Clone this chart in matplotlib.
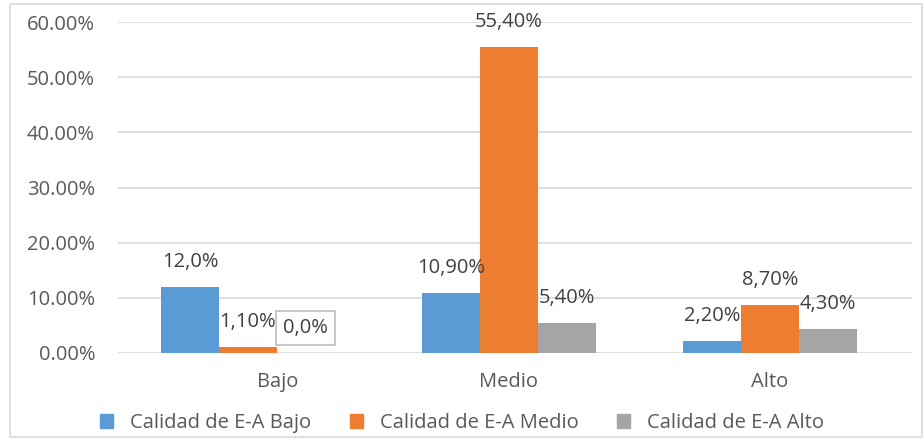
import matplotlib
matplotlib.use("Agg")
import matplotlib.pyplot as plt
import matplotlib.transforms as mtransforms
import numpy as np
from matplotlib.patches import Patch, Rectangle
from matplotlib.ticker import PercentFormatter

plt.rcParams['font.family'] = ['Open Sans', 'DejaVu Sans']

# data
categories = ["Bajo", "Medio", "Alto"]
series_names = ["Calidad de E-A Bajo", "Calidad de E-A Medio", "Calidad de E-A Alto"]
bajo_vals = [12.0, 10.9, 2.2]
medio_vals = [1.1, 55.4, 8.7]
alto_vals = [0.0, 5.4, 4.3]
bajo_labels = ["12,0%", "10,90%", "2,20%"]
medio_labels = ["1,10%", "55,40%", "8,70%"]
alto_labels = ["0,0%", "5,40%", "4,30%"]

colors = ["#5B9BD5", "#ED7D31", "#A5A5A5"]
text_col = "#595959"
fs = 14.5

fig = plt.figure(figsize=(9.24, 4.41), dpi=100)
ax = fig.add_axes([118 / 924, 1 - 353 / 441, (912 - 118) / 924, (353 - 22) / 441])

x = np.arange(len(categories))
w = 0.222
all_vals = [bajo_vals, medio_vals, alto_vals]
all_labels = [bajo_labels, medio_labels, alto_labels]

for i, (vals, labs) in enumerate(zip(all_vals, all_labels)):
    pos = x + (i - 1) * w
    ax.bar(pos, np.array(vals) / 100, width=w, color=colors[i], zorder=3)
    for px, v, lab in zip(pos, vals, labs):
        kw = {}
        if v == 0:
            kw["bbox"] = dict(boxstyle="square,pad=0.35", fc="white", ec="#BFBFBF", lw=1.2)
        ax.annotate(lab, (px, v / 100), xytext=(0, 25), textcoords="offset pixels",
                    ha="center", va="center", fontsize=fs, color="#404040", zorder=5, **kw)

ax.set_ylim(0, 0.6)
ax.set_yticks(np.arange(0, 0.61, 0.1))
ax.yaxis.set_major_formatter(PercentFormatter(1.0, decimals=2))
ax.set_xlim(-0.498, 2.544)
ax.set_xticks(x)
ax.set_xticklabels(categories)

ax.grid(axis="y", color="#D9D9D9", lw=1.2, zorder=0)
for s in ax.spines.values():
    s.set_visible(False)
ax.tick_params(axis="both", length=0, labelsize=fs, labelcolor=text_col)
ax.tick_params(axis="y", pad=16.5)
ax.tick_params(axis="x", pad=14)

# Excel draws the first category label a bit to the right
lbl = ax.get_xticklabels()[0]
lbl.set_transform(lbl.get_transform() + mtransforms.ScaledTranslation(30 / 100, 0, fig.dpi_scale_trans))

handles = [Patch(color=c) for c in colors]
fig.legend(handles, series_names, loc="center", bbox_to_anchor=(0.5, 1 - 423 / 441),
           ncol=3, frameon=False, fontsize=fs, labelcolor=text_col,
           handlelength=0.65, handleheight=0.65, handletextpad=0.85, columnspacing=1.9)

fig.patches.append(Rectangle((10 / 924, 4 / 441), 912 / 924, 433 / 441,
                             transform=fig.transFigure, fill=False, ec="#D9D9D9", lw=1.2))

fig.savefig("out.png", dpi=100)
